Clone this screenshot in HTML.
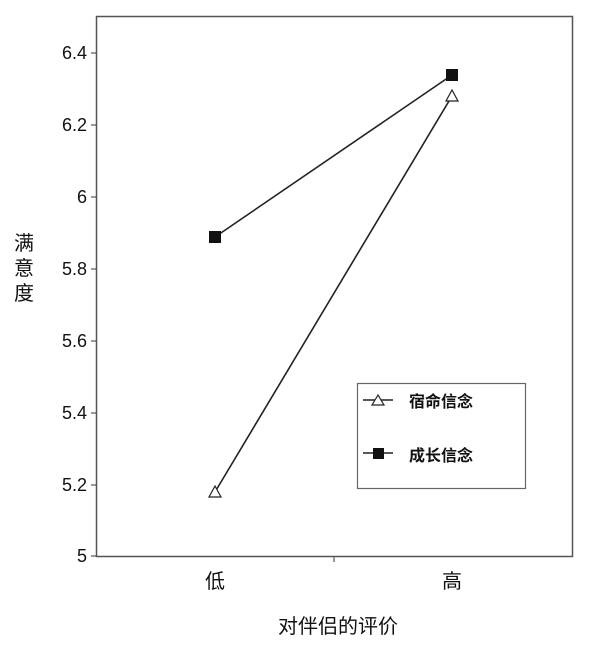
<!DOCTYPE html>
<html><head><meta charset="utf-8"><style>body{margin:0;background:#fff}</style></head><body>
<svg width="600" height="651" xmlns="http://www.w3.org/2000/svg" font-family="Liberation Sans, Noto Sans CJK SC, sans-serif">
<rect x="96.5" y="16.5" width="476" height="540" fill="none" stroke="#555" stroke-width="1.5"/>
<g stroke="#555" stroke-width="1.2">
<line x1="91" y1="53" x2="96" y2="53"/><line x1="91" y1="125" x2="96" y2="125"/><line x1="91" y1="197" x2="96" y2="197"/><line x1="91" y1="269" x2="96" y2="269"/><line x1="91" y1="341" x2="96" y2="341"/><line x1="91" y1="413" x2="96" y2="413"/><line x1="91" y1="485" x2="96" y2="485"/><line x1="91" y1="556" x2="96" y2="556"/>
<line x1="334" y1="556" x2="334" y2="562"/>
</g>
<g font-size="18" text-anchor="end" fill="#111">
<text x="87" y="59">6.4</text><text x="87" y="131">6.2</text><text x="87" y="203">6</text><text x="87" y="275">5.8</text><text x="87" y="347">5.6</text><text x="87" y="419">5.4</text><text x="87" y="491">5.2</text><text x="87" y="562">5</text>
</g>
<g font-size="20" fill="#111" text-anchor="middle">
<text x="215" y="588">低</text><text x="452" y="588">高</text>
<text x="338" y="633">对伴侣的评价</text>
<text x="24" y="250">满</text><text x="24" y="275">意</text><text x="24" y="300">度</text>
</g>
<g stroke="#222" stroke-width="1.6" fill="none">
<line x1="215" y1="492" x2="452" y2="96"/>
<line x1="215" y1="237" x2="452" y2="75"/>
</g>
<polygon points="215,486 221,497 209,497" fill="#fff" stroke="#222" stroke-width="1.2"/>
<polygon points="452,90 458,101 446,101" fill="#fff" stroke="#222" stroke-width="1.2"/>
<rect x="209" y="231" width="12" height="12" fill="#111"/>
<rect x="446" y="69" width="12" height="12" fill="#111"/>
<rect x="357.5" y="383.5" width="168" height="105" fill="#fff" stroke="#666" stroke-width="1.2"/>
<line x1="363" y1="400" x2="393" y2="400" stroke="#222" stroke-width="1.5"/>
<polygon points="378,395 384,405 372,405" fill="#fff" stroke="#222" stroke-width="1.2"/>
<line x1="363" y1="453" x2="393" y2="453" stroke="#222" stroke-width="1.5"/>
<rect x="373" y="448" width="11" height="11" fill="#111"/>
<g font-size="16" font-weight="bold" fill="#111">
<text x="409" y="407">宿命信念</text><text x="409" y="461">成长信念</text>
</g>
</svg>
</body></html>
